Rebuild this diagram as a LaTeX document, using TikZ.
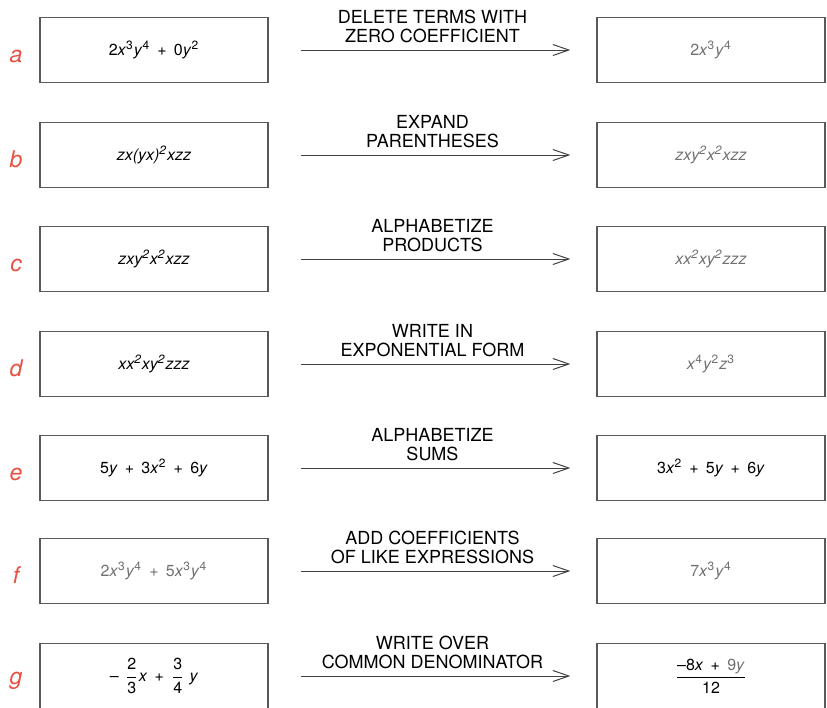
\documentclass[tikz,border=0pt]{standalone}
\usepackage{fontspec}
\setmainfont{TeX Gyre Heros}
\usepackage{amsmath}
\usetikzlibrary{arrows.meta}

\definecolor{letterred}{RGB}{232,80,66}
\definecolor{fadedgray}{RGB}{112,112,112}
\newcommand{\pw}[2]{\textit{#1}\textsuperscript{#2}}
\newcommand{\pl}{\hspace{0.45em}+\hspace{0.45em}}
\newcommand{\fr}[2]{$\dfrac{\text{#1}}{\text{#2}}$}

\tikzset{
  exprbox/.style={draw=black!65, line width=0.6pt, minimum width=114pt,
    minimum height=32.5pt, inner sep=0pt, font=\fontsize{8}{9.6}\selectfont},
  faded/.style={text=fadedgray},
  rowlabel/.style={anchor=base, text=letterred, font=\fontsize{11.5}{12}\selectfont\itshape},
  steparrow/.style={-{Straight Barb[length=8pt,width=5.5pt]}, black!75, line width=0.5pt,
    shorten <=16pt, shorten >=13pt},
  ruletext/.style={above=3.5pt, align=center, inner sep=0pt, text=black,
    font=\fontsize{9}{9.5}\selectfont}
}

\begin{document}
\begin{tikzpicture}[x=0.5pt, y=-0.5pt]
    \useasboundingbox (0,0) rectangle (827,708);
    % a
    \node[rowlabel] (let-a) at (16,62) {a};
    \node[exprbox] (in-a) at (154,50) {2\pw{x}{3}\pw{y}{4}\pl0\pw{y}{2}};
    \node[exprbox, faded] (out-a) at (711,50) {2\pw{x}{3}\pw{y}{4}};
    \draw[steparrow] (in-a) -- (out-a) node[ruletext, midway] {DELETE TERMS WITH\\ZERO COEFFICIENT};
    % b
    \node[rowlabel] (let-b) at (16,167) {b};
    \node[exprbox] (in-b) at (154,155) {\textit{zx(yx)\textsuperscript{2}xzz}};
    \node[exprbox, faded] (out-b) at (711,155) {\textit{zxy\textsuperscript{2}x\textsuperscript{2}xzz}};
    \draw[steparrow] (in-b) -- (out-b) node[ruletext, midway] {EXPAND\\PARENTHESES};
    % c
    \node[rowlabel] (let-c) at (16,271) {c};
    \node[exprbox] (in-c) at (154,259) {\textit{zxy\textsuperscript{2}x\textsuperscript{2}xzz}};
    \node[exprbox, faded] (out-c) at (711,259) {\textit{xx\textsuperscript{2}xy\textsuperscript{2}zzz}};
    \draw[steparrow] (in-c) -- (out-c) node[ruletext, midway] {ALPHABETIZE\\PRODUCTS};
    % d
    \node[rowlabel] (let-d) at (16,376) {d};
    \node[exprbox] (in-d) at (154,364) {\textit{xx\textsuperscript{2}xy\textsuperscript{2}zzz}};
    \node[exprbox, faded] (out-d) at (711,364) {\pw{x}{4}\pw{y}{2}\pw{z}{3}};
    \draw[steparrow] (in-d) -- (out-d) node[ruletext, midway] {WRITE IN\\EXPONENTIAL FORM};
    % e
    \node[rowlabel] (let-e) at (16,480) {e};
    \node[exprbox] (in-e) at (154,468) {5\textit{y}\pl3\pw{x}{2}\pl6\textit{y}};
    \node[exprbox] (out-e) at (711,468) {3\pw{x}{2}\pl5\textit{y}\pl6\textit{y}};
    \draw[steparrow] (in-e) -- (out-e) node[ruletext, midway] {ALPHABETIZE\\SUMS};
    % f
    \node[rowlabel] (let-f) at (16,583) {f};
    \node[exprbox, faded] (in-f) at (154,571) {2\pw{x}{3}\pw{y}{4}\pl5\pw{x}{3}\pw{y}{4}};
    \node[exprbox, faded] (out-f) at (711,571) {7\pw{x}{3}\pw{y}{4}};
    \draw[steparrow] (in-f) -- (out-f) node[ruletext, midway] {ADD COEFFICIENTS\\OF LIKE EXPRESSIONS};
    % g
    \node[rowlabel] (let-g) at (16,684) {g};
    \node[exprbox] (in-g) at (154,676) {--\hspace{0.4em}\fr{2}{3}\textit{x}\pl\fr{3}{4}\hspace{0.3em}\textit{y}};
    \node[exprbox] (out-g) at (711,676) {\fr{--8\textit{x}\pl{\color{fadedgray}9\textit{y}}}{12}};
    \draw[steparrow] (in-g) -- (out-g) node[ruletext, midway] {WRITE OVER\\COMMON DENOMINATOR};
\end{tikzpicture}
\end{document}
